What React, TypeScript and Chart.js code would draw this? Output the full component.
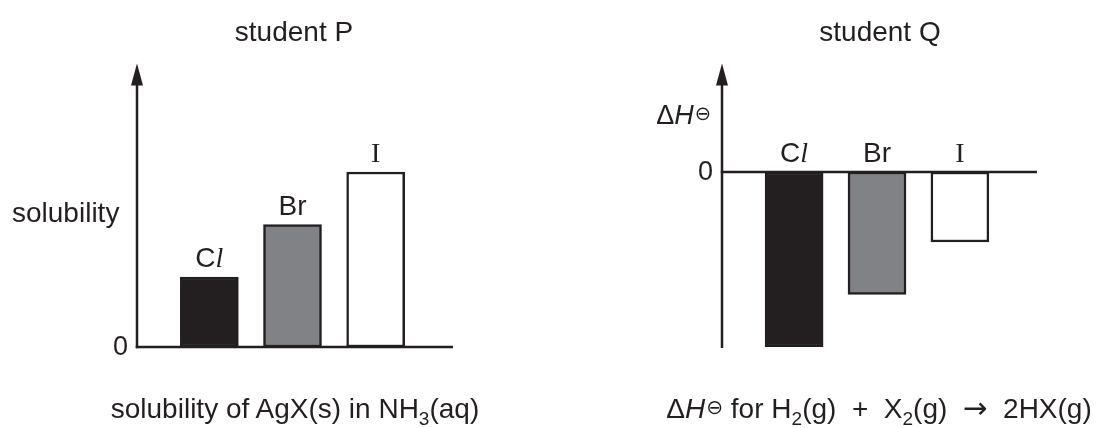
import React, { useEffect, useRef } from 'react';
import { Chart, registerables } from 'chart.js';

Chart.register(...registerables);

// ---- data ----
const categories = ['Cl', 'Br', 'I'];
const solubilityValues = [2, 3.5, 5];
const enthalpyValues = [-5, -3.5, -2];
const barColors = ['#231f20', '#808285', '#ffffff'];
const zeroTickLabel = '0';

const INK = '#231f20';
const SANS = '"Liberation Sans", Arial, Helvetica, sans-serif';
const SERIF = '"Liberation Serif", "Times New Roman", serif';

const labelParts: Record<string, { text: string; font: string }[]> = {
  Cl: [
    { text: 'C', font: `28px ${SANS}` },
    { text: 'l', font: `italic 28px ${SERIF}` },
  ],
  Br: [{ text: 'Br', font: `28px ${SANS}` }],
  I: [{ text: 'I', font: `28px ${SERIF}` }],
};

function drawLabel(ctx: CanvasRenderingContext2D, label: string, cx: number, baseline: number) {
  const parts = labelParts[label] || [{ text: label, font: `28px ${SANS}` }];
  let total = 0;
  const widths = parts.map((p) => {
    ctx.font = p.font;
    const w = ctx.measureText(p.text).width;
    total += w;
    return w;
  });
  let x = cx - total / 2;
  ctx.textAlign = 'left';
  ctx.textBaseline = 'alphabetic';
  parts.forEach((p, i) => {
    ctx.font = p.font;
    ctx.fillText(p.text, x, baseline);
    x += widths[i];
  });
}

function makeAxesPlugin(mode: 'positive' | 'signed') {
  return {
    id: 'axesAndLabels',
    afterDatasetsDraw(chart: any) {
      const { ctx, chartArea, scales } = chart;
      const y = scales.y;
      const y0 = y.getPixelForValue(0);
      const left = chartArea.left;
      const right = chartArea.right;
      ctx.save();
      ctx.strokeStyle = INK;
      ctx.fillStyle = INK;
      ctx.lineWidth = 2.5;
      const tipY = chartArea.top - 3.5;
      const bottom = mode === 'positive' ? y0 + 1.25 : chartArea.bottom + 1;
      // vertical axis
      ctx.beginPath();
      ctx.moveTo(left, bottom);
      ctx.lineTo(left, tipY + 20);
      ctx.stroke();
      // arrow head
      ctx.beginPath();
      ctx.moveTo(left, tipY);
      ctx.lineTo(left - 6, tipY + 22);
      ctx.lineTo(left + 6, tipY + 22);
      ctx.closePath();
      ctx.fill();
      // horizontal axis at zero
      ctx.beginPath();
      ctx.moveTo(left - 1.25, y0);
      ctx.lineTo(right, y0);
      ctx.stroke();
      // zero tick label
      ctx.font = `27px ${SANS}`;
      ctx.textAlign = 'right';
      ctx.textBaseline = 'middle';
      ctx.fillText(zeroTickLabel, left - 9, y0 + 1);
      // bar labels
      const meta = chart.getDatasetMeta(0);
      meta.data.forEach((el: any, i: number) => {
        const p = el.getProps(['x', 'y', 'base'], true);
        const top = Math.min(p.y, p.base);
        drawLabel(ctx, categories[i], p.x, top - 10);
      });
      ctx.restore();
    },
  };
}

function BarPanel(props: {
  values: number[];
  yMin: number;
  yMax: number;
  mode: 'positive' | 'signed';
  width: number;
  padding: { left: number; right: number; top: number; bottom: number };
}) {
  const ref = useRef<HTMLCanvasElement | null>(null);
  useEffect(() => {
    if (!ref.current) return;
    const chart = new Chart(ref.current, {
      type: 'bar',
      data: {
        datasets: [
          {
            data: categories.map((c, i) => ({ x: i, y: props.values[i] })) as any,
            backgroundColor: barColors,
            borderColor: INK,
            borderWidth: 2.5,
            borderSkipped: false,
            barThickness: 58,
          },
        ],
      },
      options: {
        animation: false,
        responsive: false,
        events: [],
        layout: { padding: props.padding },
        plugins: {
          legend: { display: false },
          tooltip: { enabled: false },
          title: { display: false },
        },
        scales: {
          x: {
            type: 'linear',
            min: -0.87,
            max: 2.93,
            offset: false,
            grid: { offset: false },
            display: false,
          },
          y: { type: 'linear', min: props.yMin, max: props.yMax, display: false },
        },
      },
      plugins: [makeAxesPlugin(props.mode)],
    });
    return () => chart.destroy();
  }, []);
  return <canvas ref={ref} width={props.width} height={428} style={{ display: 'block' }} />;
}

function Txt(props: {
  x: number;
  baseline: number;
  align?: 'left' | 'center' | 'right';
  size?: number;
  children: React.ReactNode;
}) {
  const size = props.size || 28;
  const top = props.baseline - 0.8465 * size;
  const align = props.align || 'center';
  const style: React.CSSProperties = {
    position: 'absolute',
    top,
    fontFamily: SANS,
    fontSize: size,
    lineHeight: `${size}px`,
    whiteSpace: 'pre',
    color: INK,
  };
  if (align === 'center') {
    style.left = props.x;
    style.transform = 'translateX(-50%)';
  } else if (align === 'left') {
    style.left = props.x;
  } else {
    style.right = 1101 - props.x;
  }
  return <div style={style}>{props.children}</div>;
}

const subStyle: React.CSSProperties = {
  fontSize: '0.68em',
  lineHeight: 0,
  position: 'relative',
  top: '0.33em',
  verticalAlign: 'baseline',
};
const plimsollStyle: React.CSSProperties = {
  fontFamily: '"DejaVu Sans", sans-serif',
  fontSize: '0.72em',
  lineHeight: 0,
  position: 'relative',
  top: '-0.22em',
  verticalAlign: 'baseline',
  marginLeft: 1,
};
const arrowStyle: React.CSSProperties = {
  fontFamily: '"DejaVu Sans", sans-serif',
  fontSize: '1.05em',
  lineHeight: 0,
  position: 'relative',
  top: '-0.02em',
};

export default function App() {
  return (
    <div
      style={{
        position: 'absolute',
        left: 0,
        top: 0,
        width: 1101,
        height: 428,
        background: '#ffffff',
        overflow: 'hidden',
      }}
    >
      <div style={{ position: 'absolute', left: 0, top: 0 }}>
        <BarPanel
          values={solubilityValues}
          yMin={0}
          yMax={8}
          mode="positive"
          width={550}
          padding={{ left: 137, right: 97, top: 67, bottom: 81 }}
        />
      </div>
      <div style={{ position: 'absolute', left: 550, top: 0 }}>
        <BarPanel
          values={enthalpyValues}
          yMin={-5}
          yMax={3}
          mode="signed"
          width={551}
          padding={{ left: 172, right: 64, top: 67, bottom: 81 }}
        />
      </div>

      <Txt x={294} baseline={42}>student P</Txt>
      <Txt x={880} baseline={42}>student Q</Txt>

      <Txt x={12} baseline={223} align="left">solubility</Txt>
      <Txt x={711} baseline={125} align="right" size={27}>
        Δ<i>H</i>
        <span style={plimsollStyle}>⊖</span>
      </Txt>

      <Txt x={295} baseline={419}>
        solubility of AgX(s) in NH<span style={subStyle}>3</span>(aq)
      </Txt>
      <Txt x={879} baseline={419}>
        Δ<i>H</i>
        <span style={plimsollStyle}>⊖</span> for H<span style={subStyle}>2</span>(g)  +  X
        <span style={subStyle}>2</span>(g)  <span style={arrowStyle}>→</span>  2HX(g)
      </Txt>
    </div>
  );
}
